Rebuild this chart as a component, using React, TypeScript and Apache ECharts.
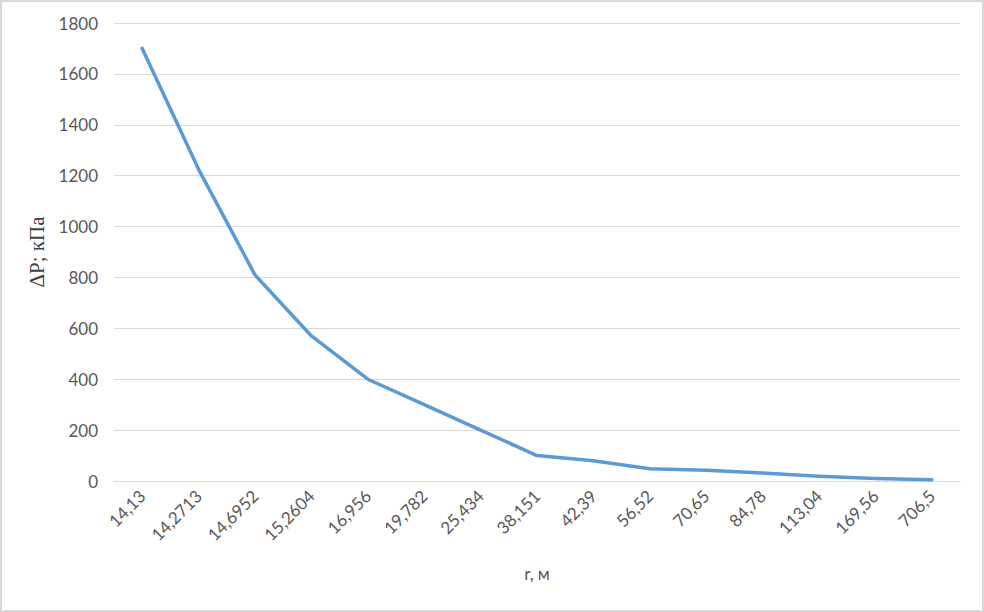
import React, { useEffect, useRef } from "react";
import * as echarts from "echarts";

const categories = [
  "14,13", "14,2713", "14,6952", "15,2604", "16,956", "19,782", "25,434",
  "38,151", "42,39", "56,52", "70,65", "84,78", "113,04", "169,56", "706,5",
];
const pressureValues = [1700, 1225, 810, 570, 400, 300, 200, 100, 80, 48, 42, 31, 19, 10, 5];
const yTicks = { min: 0, max: 1800, interval: 200 };
const yAxisTitle = "ΔP; кПа";
const xAxisTitle = "r, м";

export default function App() {
  const ref = useRef<HTMLDivElement>(null);
  useEffect(() => {
    if (!ref.current) return;
    const chart = echarts.init(ref.current, null, { renderer: "svg" });
    const labelFont = { fontFamily: "Lato, 'Open Sans', sans-serif", fontSize: 17, color: "#595959" };
    chart.setOption({
      animation: false,
      backgroundColor: "#ffffff",
      graphic: [
        {
          type: "rect",
          shape: { x: 1, y: 1, width: 982, height: 610 },
          style: { fill: "none", stroke: "#D9D9D9", lineWidth: 2 },
          silent: true,
        },
      ],
      grid: { left: 114, right: 24, top: 23, bottom: 131, containLabel: false },
      xAxis: {
        type: "category",
        data: categories,
        boundaryGap: true,
        name: xAxisTitle,
        nameLocation: "middle",
        nameGap: 84,
        nameTextStyle: { ...labelFont },
        axisLine: { show: true, lineStyle: { color: "#D9D9D9", width: 1 } },
        axisTick: { show: false },
        axisLabel: { ...labelFont, rotate: 45, margin: 12, interval: 0 },
        splitLine: { show: false },
      },
      yAxis: {
        type: "value",
        min: yTicks.min,
        max: yTicks.max,
        interval: yTicks.interval,
        name: yAxisTitle,
        nameLocation: "middle",
        nameGap: 53,
        nameTextStyle: { fontFamily: "'Liberation Serif', 'DejaVu Serif', serif", fontSize: 21, color: "#404040" },
        axisLine: { show: false },
        axisTick: { show: false },
        axisLabel: { ...labelFont, margin: 16, formatter: (v: number) => String(v) },
        splitLine: { show: true, lineStyle: { color: "#D9D9D9", width: 1 } },
      },
      series: [
        {
          type: "line",
          data: pressureValues,
          symbol: "none",
          lineStyle: { color: "#5B9BD5", width: 3.5, cap: "round", join: "round" },
          itemStyle: { color: "#5B9BD5" },
        },
      ],
    });
    return () => chart.dispose();
  }, []);
  return (
    <div
      ref={ref}
      style={{ position: "absolute", left: 0, top: 0, width: 984, height: 612 }}
    />
  );
}
